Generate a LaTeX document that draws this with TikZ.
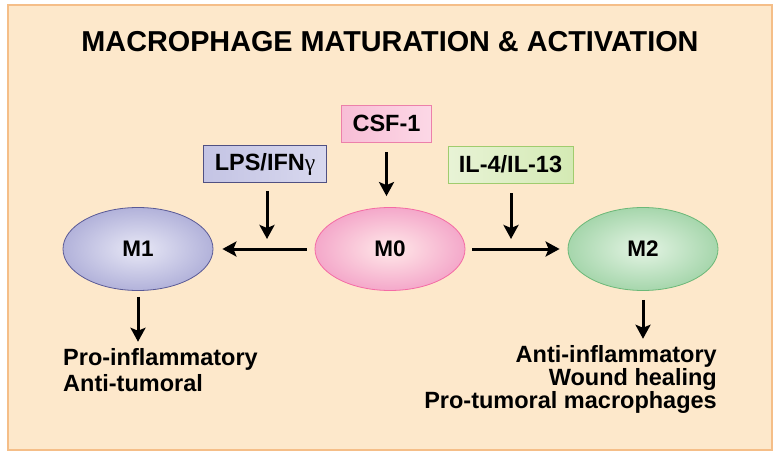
\documentclass[tikz,border=0pt]{standalone}
\usepackage{fontspec}
\setmainfont{Liberation Sans}
\newfontfamily\grkfont{Liberation Serif}
\usetikzlibrary{shapes.geometric,arrows.meta}
\definecolor{panelfill}{HTML}{FDE8CB}
\definecolor{paneldraw}{HTML}{F5BE88}
\begin{document}
\begin{tikzpicture}[x=1pt,y=-1pt]
	% Set styles
	\tikzset{
		cell/.style={draw, ellipse, minimum width=150pt, minimum height=83pt, line width=0.8pt, font=\fontsize{22.5}{24}\selectfont\bfseries},
		signal/.style={draw, rectangle, minimum height=37pt, inner xsep=11pt, line width=0.8pt, font=\fontsize{23.5}{24}\selectfont\bfseries},
		arr/.style={line width=3pt, -{Stealth[length=14pt, width=15pt, inset=3pt]}},
		outcome/.style={inner sep=0pt, font=\fontsize{23.5}{26}\selectfont\bfseries}
	}
	\useasboundingbox (0,0) rectangle (781,460);
	
	% Panel
	\draw[paneldraw, fill=panelfill, line width=2pt] (8,5) rectangle (772,450);
	
	% Title
	\node[anchor=base, inner sep=0pt, font=\fontsize{28.8}{30}\selectfont\bfseries] (title) at (390,52) {MACROPHAGE MATURATION \& ACTIVATION};
	
	% The three cell states
	\node [cell, draw=magenta!45!pink, inner color=pink!35!white, outer color={rgb,255:red,244;green,168;blue,202}] (m0) at (390,249) {M0};
	\node [cell, draw={rgb,255:red,90;green,90;blue,150}, inner color={rgb,255:red,232;green,232;blue,246}, outer color={rgb,255:red,178;green,178;blue,218}] (m1) at (138,249) {M1};
	\node [cell, draw={rgb,255:red,108;green,184;blue,120}, inner color={rgb,255:red,228;green,244;blue,228}, outer color={rgb,255:red,166;green,214;blue,172}] (m2) at (643,249) {M2};
	
	% Stimuli
	\node [signal, draw={rgb,255:red,236;green,128;blue,170}, left color={rgb,255:red,248;green,190;blue,214}, right color={rgb,255:red,252;green,216;blue,230}] (csf) at (386.5,123.5) {CSF-1};
	\node [signal, draw={rgb,255:red,80;green,80;blue,130}, left color={rgb,255:red,196;green,196;blue,228}, right color={rgb,255:red,216;green,216;blue,238}] (lps) at (265,164) {LPS/IFN{\mdseries\grkfont γ}};
	\node [signal, draw={rgb,255:red,160;green,204;blue,110}, left color={rgb,255:red,232;green,243;blue,214}, right color={rgb,255:red,212;green,234;blue,180}] (il) at (510.5,164.5) {IL-4/IL-13};
	
	% Where the stimuli meet the horizontal arrows
	\coordinate (lpsfoot) at (267,249);
	\coordinate (ilfoot) at (511,249);
	
	% Outcomes
	\node [outcome, anchor=base west, align=left] (m1out) at (63,391) {Pro-inflammatory\\Anti-tumoral};
	\node [outcome, anchor=base east, align=right, font=\fontsize{23.5}{23}\selectfont\bfseries] (m2out) at (717,408) {Anti-inflammatory\\Wound healing\\Pro-tumoral macrophages};
	
	% Arrows
	\draw [arr, shorten <=8pt, shorten >=9pt] (m0) -- (m1);
	\draw [arr, shorten <=7pt, shorten >=8pt] (m0) -- (m2);
	\draw [arr, shorten <=10pt, shorten >=11pt] (csf.south) -- (csf.south |- m0.north);
	\draw [arr, shorten <=8pt, shorten >=10pt] (lps.south -| lpsfoot) -- (lpsfoot);
	\draw [arr, shorten <=10pt, shorten >=10pt] (il.south -| ilfoot) -- (ilfoot);
	\draw [arr, shorten <=6pt, shorten >=6pt] (m1.south) -- (m1.south |- m1out.north);
	\draw [arr, shorten <=9pt, shorten >=6pt] (m2.south) -- (m2.south |- m2out.north);
	
\end{tikzpicture}
\end{document}
